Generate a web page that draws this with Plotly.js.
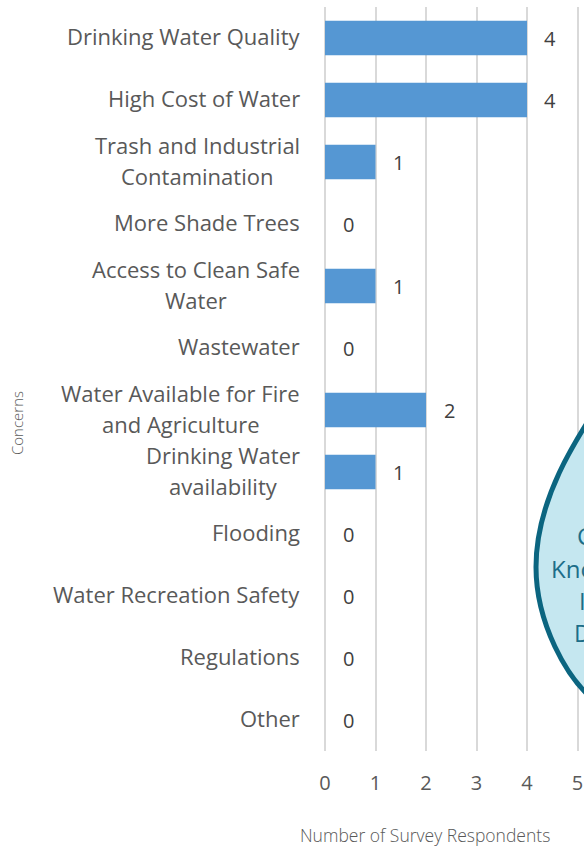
<!DOCTYPE html>
<html>
<head>
<meta charset="utf-8">
<script src="https://cdn.plot.ly/plotly-3.0.1.min.js"></script>
<style>
html, body { margin:0; padding:0; overflow:hidden; background:#fff; }
#chart { width:584px; height:846px; }
</style>
</head>
<body>
<div id="chart"></div>
<script>
// ---- data ----
var categories = [
  "Drinking Water Quality",
  "High Cost of Water",
  "Trash and Industrial<br>Contamination",
  "More Shade Trees",
  "Access to Clean Safe<br>Water",
  "Wastewater",
  "Water Available for Fire<br>and Agriculture",
  "Drinking Water<br>availability",
  "Flooding",
  "Water Recreation Safety",
  "Regulations",
  "Other"
];
var values = [4, 4, 1, 0, 1, 0, 2, 1, 0, 0, 0, 0];
var xTickVals = [0, 1, 2, 3, 4, 5];
var xTitle = "Number of Survey Respondents";
var yTitle = "Concerns";
var dropLines = ["Community", "Knowledge", "Input", "Data"];

// ---- geometry helpers (pixel -> paper) ----
var W = 584, H = 846;
var M = {l: 325, r: 0, t: 7, b: 95};
var PW = W - M.l - M.r, PH = H - M.t - M.b;
function px(x) { return (x - M.l) / PW; }
function py(y) { return (H - M.b - y) / PH; }

var FONT = "Open Sans, DejaVu Sans, sans-serif";
var LABEL_SIZE = 22;

var ctx = document.createElement("canvas").getContext("2d");
ctx.font = LABEL_SIZE + "px 'Open Sans'";
function textW(s) { return ctx.measureText(s).width; }

var trace = {
  type: "bar",
  orientation: "h",
  x: values,
  y: categories,
  width: 0.56,
  marker: {color: "#5597d3", line: {width: 0}},
  hoverinfo: "skip"
};

var annotations = [];
// category labels: each line centred on the label block, block right-aligned 25px left of the plot
categories.forEach(function (c) {
  var lines = c.split("<br>");
  var n = lines.length;
  var maxW = Math.max.apply(null, lines.map(textW));
  lines.forEach(function (ln, i) {
    annotations.push({
      xref: "paper", yref: "y", x: 0, y: c,
      xanchor: "center", yanchor: "middle",
      xshift: -25 - maxW / 2,
      yshift: ((n - 1) / 2 - i) * 31 + 2,
      text: ln, showarrow: false,
      font: {family: FONT, size: LABEL_SIZE, color: "#595959"}
    });
  });
});

// value labels
values.forEach(function (v, i) {
  annotations.push({
    xref: "x", yref: "y", x: v, y: categories[i],
    xanchor: "center", yanchor: "middle", xshift: 23,
    text: String(v), showarrow: false,
    font: {family: FONT, size: 20, color: "#404040"}
  });
});

// axis titles
annotations.push({
  xref: "paper", yref: "paper", x: px(425), y: py(835),
  xanchor: "center", yanchor: "middle",
  text: xTitle, showarrow: false,
  font: {family: FONT, size: 17.5, color: "#595959", weight: 300}
});
annotations.push({
  xref: "paper", yref: "paper", x: px(17), y: py(423),
  xanchor: "center", yanchor: "middle", textangle: -90,
  text: yTitle, showarrow: false,
  font: {family: FONT, size: 15, color: "#595959", weight: 300}
});

// drop text (runs off the right page edge, as in the reference)
var dropX = [575, 549, 577, 572];
var dropY = [535, 568, 600, 632];
dropLines.forEach(function (t, i) {
  annotations.push({
    xref: "paper", yref: "paper", x: px(dropX[i]), y: py(dropY[i]),
    xanchor: "left", yanchor: "middle",
    text: t, showarrow: false,
    font: {family: FONT, size: 24, color: "#1c6e89"}
  });
});

// teardrop outline path in pixels -> paper
function P(x, y) { return px(x).toFixed(4) + "," + py(y).toFixed(4); }
var dropPath = "M" + P(605, 395) +
  " C" + P(575, 440) + " " + P(536, 500) + " " + P(536, 567) +
  " C" + P(536, 620) + " " + P(565, 680) + " " + P(600, 705) +
  " L" + P(720, 705) + " L" + P(720, 300) + " Z";

var layout = {
  width: W, height: H,
  margin: M,
  paper_bgcolor: "#ffffff",
  plot_bgcolor: "#ffffff",
  showlegend: false,
  font: {family: FONT, color: "#595959"},
  xaxis: {
    range: [0, PW / 50.5],
    tickvals: xTickVals,
    ticktext: xTickVals.map(String),
    showgrid: true, gridcolor: "#d9d9d9", gridwidth: 2,
    zeroline: true, zerolinecolor: "#d9d9d9", zerolinewidth: 2,
    showline: false, ticks: "",
    ticklabelstandoff: 18,
    tickfont: {family: FONT, size: 20, color: "#595959"},
    fixedrange: true
  },
  yaxis: {
    type: "category",
    categoryorder: "array",
    categoryarray: categories,
    autorange: "reversed",
    showticklabels: false,
    showgrid: false, zeroline: false, showline: false, ticks: "",
    fixedrange: true
  },
  shapes: [{
    type: "path", xref: "paper", yref: "paper",
    path: dropPath,
    fillcolor: "#c5e7f0",
    line: {color: "#0b6580", width: 5},
    layer: "above"
  }],
  annotations: annotations
};

Plotly.newPlot("chart", [trace], layout, {displayModeBar: false, staticPlot: true});
</script>
</body>
</html>
